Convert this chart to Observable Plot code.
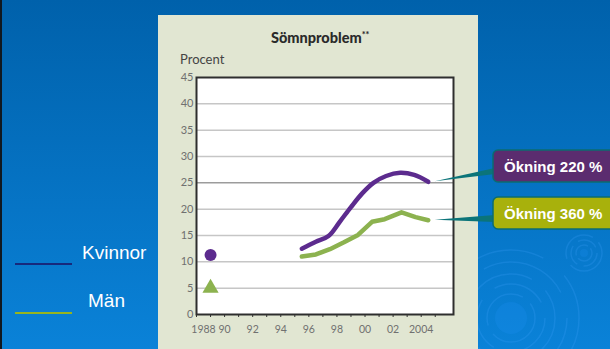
<!DOCTYPE html>
<html>
<head>
<meta charset="utf-8">
<script src="https://cdn.jsdelivr.net/npm/d3@7"></script>
<script src="https://cdn.jsdelivr.net/npm/@observablehq/plot@0.6"></script>
<style>
  html, body { margin: 0; padding: 0; }
  body { width: 610px; height: 349px; overflow: hidden; }
  #slide {
    position: relative; width: 610px; height: 349px; overflow: hidden;
    background: linear-gradient(#0061ab, #0a82d8);
    box-shadow: inset 2px 0 0 #101820;
  }
  #ripples, #chart { position: absolute; left: 0; top: 0; }
  #panel { position: absolute; left: 158px; top: 15px; width: 320px; height: 340px; background: #e1e6d2; }
  .ptxt { position: absolute; font-family: Lato, sans-serif; color: #333; white-space: nowrap; }
  .leg-line { position: absolute; left: 15px; width: 57px; height: 2px; }
  .leg-txt { position: absolute; font-family: Arial, "Liberation Sans", sans-serif; font-size: 19px; color: #fff; }
</style>
</head>
<body>
<div id="slide">
  <svg id="ripples" width="610" height="349"></svg>
  <div id="panel"></div>
  <div class="ptxt" style="left:271px; top:29px; font-size:14.5px; font-weight:900; color:#2a2a2a;">Sömnproblem<span style="font-size:9px; position:relative; top:-5px;">**</span></div>
  <div class="ptxt" style="left:180px; top:51px; font-size:13px; color:#444;">Procent</div>
  <div id="chart"></div>
  <div class="leg-line" style="top:263px; background:#17297c;"></div>
  <div class="leg-txt" style="left:82px; top:242px;">Kvinnor</div>
  <div class="leg-line" style="top:312px; background:#96b41e;"></div>
  <div class="leg-txt" style="left:88px; top:290px;">Män</div>
</div>
<script>
// Share of adults reporting sleep problems (percent)
const kvinnorYears = [1995.5, 1996.5, 1997.4, 1998.2, 1999.0, 1999.8, 2000.6, 2001.5, 2002.5, 2003.5, 2004.5];
const kvinnorValues = [12.5, 13.8, 14.9, 17.6, 20.4, 23.0, 25.0, 26.3, 26.9, 26.5, 25.2];
const manYears = [1995.5, 1996.5, 1997.5, 1998.5, 1999.5, 2000.5, 2001.4, 2002.6, 2003.6, 2004.5];
const manValues = [11.0, 11.4, 12.4, 13.7, 15.1, 17.6, 18.1, 19.4, 18.5, 17.9];

// Earlier single survey (1988/89)
const earlyYear = 1989;
const earlyKvinnor = 11.3;
const earlyMan = 5.0;

// Increase labels
const calloutLabels = ["Ökning 220 %", "Ökning 360 %"];

// Axis ticks
const yTicks = [0, 5, 10, 15, 20, 25, 30, 35, 40, 45];
const tickYears = d3.range(1988, 2006);
const labelYears = [1990, 1992, 1994, 1996, 1998, 2000, 2002, 2004];
const labelTexts = ["90", "92", "94", "96", "98", "00", "02", "2004"];
const firstLabelYear = 1988;
const firstLabelText = "1988";

const purple = "#5c2b8e";
const green = "#8cb24f";

const kvinnor = kvinnorYears.map((year, i) => ({year, value: kvinnorValues[i]}));
const man = manYears.map((year, i) => ({year, value: manValues[i]}));
const xLabels = labelYears.map((year, i) => ({year, text: labelTexts[i]}));

const chart = Plot.plot({
  width: 610,
  height: 349,
  marginLeft: 196,
  marginRight: 157,
  marginTop: 77,
  marginBottom: 35,
  style: {background: "transparent", fontFamily: "Lato, sans-serif", fontSize: "11px", overflow: "visible"},
  x: {domain: [1988, 2006.3]},
  y: {domain: [0, 45]},
  marks: [
    Plot.frame({fill: "white"}),
    Plot.gridY({ticks: yTicks.filter(d => d > 0 && d < 45 && d !== 25), stroke: "#c6c6c6", strokeOpacity: 1, strokeWidth: 1.5}),
    Plot.gridY({ticks: [25], stroke: "#9c9c9c", strokeOpacity: 1, strokeWidth: 1.5}),
    Plot.axisY({ticks: yTicks, tickSize: 0, tickPadding: 3, label: null, color: "#707070"}),
    Plot.axisX({ticks: tickYears, tickSize: 3, tickFormat: () => "", label: null, color: "#333"}),
    Plot.text(xLabels, {x: "year", text: "text", frameAnchor: "bottom", dy: 18, fill: "#707070", fontSize: 10.5}),
    Plot.text([firstLabelText], {x: firstLabelYear, text: d => d, frameAnchor: "bottom", dy: 18, dx: 7, fill: "#707070", fontSize: 10.5}),
    Plot.line(kvinnor, {x: "year", y: "value", stroke: purple, strokeWidth: 4.5, curve: "catmull-rom", strokeLinecap: "round"}),
    Plot.line(man, {x: "year", y: "value", stroke: green, strokeWidth: 4.5, strokeLinejoin: "round", strokeLinecap: "round"}),
    Plot.dot([earlyKvinnor], {x: earlyYear, y: d => d, r: 6, fill: purple, symbol: "circle"}),
    Plot.dot([earlyMan], {x: earlyYear, y: d => d, r: 6, fill: green, symbol: "triangle"}),
    Plot.frame({stroke: "#2e2e2e", strokeWidth: 2})
  ]
});
document.getElementById("chart").appendChild(chart);

// Callout boxes pointing at the latest value of each series
const xs = chart.scale("x"), ys = chart.scale("y");
const svg = d3.select(chart);
const callouts = [
  {end: kvinnor[kvinnor.length - 1], label: calloutLabels[0], fill: "#5b2c6f", boxTop: 150, base: [168, 174]},
  {end: man[man.length - 1], label: calloutLabels[1], fill: "#a8b10c", boxTop: 197, base: [215, 222]}
];
const boxLeft = 493;
for (const c of callouts) {
  const tx = xs.apply(c.end.year) + 7, ty = ys.apply(c.end.value);
  const g = svg.append("g");
  g.append("path")
    .attr("d", `M${tx},${ty}L${boxLeft + 2},${c.base[0]}L${boxLeft + 2},${c.base[1]}Z`)
    .attr("fill", "#0b7479");
  g.append("rect")
    .attr("x", boxLeft).attr("y", c.boxTop).attr("width", 130).attr("height", 32).attr("rx", 5)
    .attr("fill", c.fill).attr("stroke", "#0b6c70").attr("stroke-width", 1.5);
  g.append("text")
    .attr("x", boxLeft + 11).attr("y", c.boxTop + 22)
    .attr("text-anchor", "start")
    .attr("fill", "white").attr("font-family", "Arial, 'Liberation Sans', sans-serif")
    .attr("font-size", 15).attr("font-weight", "bold")
    .text(c.label);
}

// Water ripples in the slide background
const rip = d3.select("#ripples");
const ripple = (cx, cy, core, rings) => {
  rip.append("circle").attr("cx", cx).attr("cy", cy).attr("r", core).attr("fill", "rgba(40,150,255,0.18)");
  rings.forEach((r, i) => rip.append("circle")
    .attr("cx", cx).attr("cy", cy).attr("r", r).attr("fill", "none")
    .attr("stroke", "rgba(70,165,255,0.22)").attr("stroke-width", 1.5)
    .attr("stroke-dasharray", i % 2 ? `${r * 1.6} ${r * 0.5}` : `${r * 2.4} ${r * 0.4}`));
};
ripple(511, 318, 16, [24, 34, 44, 56, 68]);
ripple(584, 253, 4, [8, 13, 18]);
</script>
</body>
</html>
